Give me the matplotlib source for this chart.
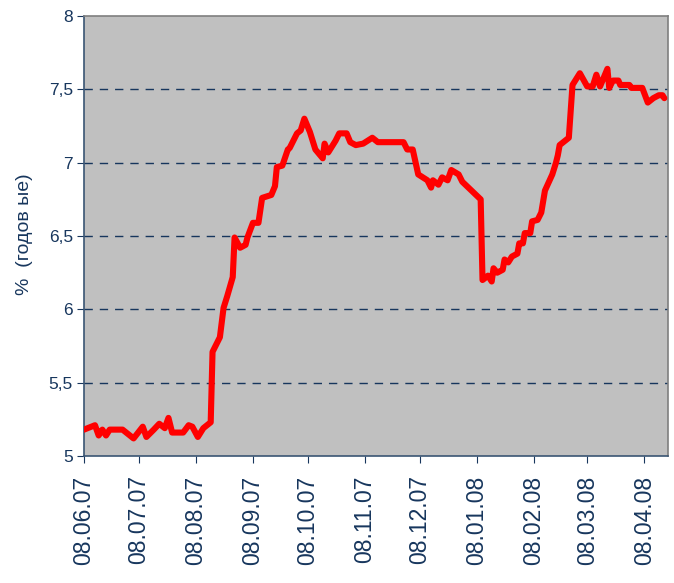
import matplotlib
matplotlib.use('Agg')
import matplotlib.pyplot as plt
import matplotlib.dates as mdates
import pandas as pd

# ставка, % годовых
dates = ['2007-06-08', '2007-06-14', '2007-06-16', '2007-06-18', '2007-06-20', '2007-06-22',
         '2007-06-29', '2007-07-05', '2007-07-10', '2007-07-12', '2007-07-16', '2007-07-19',
         '2007-07-22', '2007-07-24', '2007-07-26', '2007-08-01', '2007-08-04', '2007-08-06',
         '2007-08-09', '2007-08-12', '2007-08-16', '2007-08-17', '2007-08-21', '2007-08-23',
         '2007-08-25', '2007-08-28', '2007-08-29', '2007-09-01', '2007-09-04', '2007-09-05',
         '2007-09-08', '2007-09-11', '2007-09-13', '2007-09-18', '2007-09-20', '2007-09-21',
         '2007-09-24', '2007-09-27', '2007-09-28', '2007-10-02', '2007-10-04', '2007-10-06',
         '2007-10-09', '2007-10-12', '2007-10-16', '2007-10-17', '2007-10-19', '2007-10-23',
         '2007-10-25', '2007-10-29', '2007-10-31', '2007-11-03', '2007-11-07', '2007-11-12',
         '2007-11-15', '2007-11-22', '2007-11-29', '2007-12-01', '2007-12-04', '2007-12-07',
         '2007-12-12', '2007-12-14', '2007-12-15', '2007-12-18', '2007-12-20', '2007-12-23',
         '2007-12-25', '2007-12-29', '2007-12-31', '2008-01-10', '2008-01-11', '2008-01-14',
         '2008-01-16', '2008-01-17', '2008-01-19', '2008-01-22', '2008-01-23', '2008-01-25',
         '2008-01-27', '2008-01-30', '2008-01-31', '2008-02-02', '2008-02-03', '2008-02-06',
         '2008-02-07', '2008-02-10', '2008-02-12', '2008-02-14', '2008-02-18', '2008-02-20',
         '2008-02-21', '2008-02-22', '2008-02-27', '2008-02-29', '2008-03-04', '2008-03-08',
         '2008-03-11', '2008-03-13', '2008-03-15', '2008-03-18', '2008-03-19', '2008-03-20',
         '2008-03-22', '2008-03-25', '2008-03-26', '2008-03-31', '2008-04-01', '2008-04-07',
         '2008-04-10', '2008-04-13', '2008-04-16', '2008-04-18', '2008-04-19']
rate = [5.18, 5.21, 5.14, 5.18, 5.14, 5.18,
        5.18, 5.12, 5.20, 5.13, 5.18, 5.22,
        5.19, 5.26, 5.16, 5.16, 5.21, 5.20,
        5.13, 5.19, 5.23, 5.71, 5.81, 6.01,
        6.09, 6.22, 6.49, 6.42, 6.44, 6.49,
        6.59, 6.59, 6.76, 6.78, 6.84, 6.97,
        6.98, 7.09, 7.10, 7.20, 7.22, 7.30,
        7.21, 7.09, 7.03, 7.13, 7.07, 7.15,
        7.20, 7.20, 7.14, 7.12, 7.13, 7.17,
        7.14, 7.14, 7.14, 7.09, 7.09, 6.92,
        6.88, 6.83, 6.88, 6.85, 6.90, 6.88,
        6.95, 6.92, 6.87, 6.75, 6.20, 6.23,
        6.19, 6.28, 6.25, 6.27, 6.34, 6.32,
        6.36, 6.38, 6.45, 6.45, 6.52, 6.52,
        6.60, 6.61, 6.66, 6.81, 6.92, 7.00,
        7.05, 7.12, 7.17, 7.53, 7.61, 7.52,
        7.52, 7.60, 7.52, 7.61, 7.64, 7.51,
        7.56, 7.56, 7.53, 7.53, 7.51, 7.51,
        7.41, 7.44, 7.46, 7.46, 7.44]

tick_dates = ['2007-06-08', '2007-07-08', '2007-08-08', '2007-09-08', '2007-10-08', '2007-11-08',
              '2007-12-08', '2008-01-08', '2008-02-08', '2008-03-08', '2008-04-08']
yticks = [5, 5.5, 6, 6.5, 7, 7.5, 8]
ytick_labels = ['5', '5,5', '6', '6,5', '7', '7,5', '8']

navy = '#17365D'
plt.rcParams['font.family'] = ['Liberation Sans', 'DejaVu Sans']

fig = plt.figure(figsize=(6.74, 5.83), dpi=100)
ax = fig.add_axes([0.1246, 0.2178, 0.8665, 0.7547])
ax.set_facecolor('#C0C0C0')

x = pd.to_datetime(dates)
ax.plot(x, rate, color='#FF0000', lw=4.4, solid_joinstyle='round', solid_capstyle='round', zorder=3)

ax.set_ylim(5, 8)
ax.set_yticks(yticks)
ax.set_yticklabels(ytick_labels)
ax.set_xlim(pd.Timestamp('2007-06-08'), pd.Timestamp('2008-04-21'))
ax.set_xticks(pd.to_datetime(tick_dates))
ax.xaxis.set_major_formatter(mdates.DateFormatter('%d.%m.%y'))

for v in yticks[1:-1]:
    ax.axhline(v, color=navy, lw=1, ls=(0, (6, 5)), zorder=1)

ax.tick_params(axis='x', direction='out', length=5, color=navy, labelsize=16.5,
               labelcolor=navy, rotation=90, pad=9)
ax.tick_params(axis='y', direction='out', length=5, color=navy, labelsize=12.5,
               labelcolor=navy, pad=3)

for s in ['left', 'bottom']:
    ax.spines[s].set_color('#3A5573')
    ax.spines[s].set_linewidth(1.2)
for s in ['top', 'right']:
    ax.spines[s].set_color('#7F7F7F')
    ax.spines[s].set_linewidth(1.2)

ax.set_ylabel('%  (годов ые)', color=navy, fontsize=14)
ax.yaxis.set_label_coords(-0.088, 0.505)

fig.savefig('out.png', dpi=100)
